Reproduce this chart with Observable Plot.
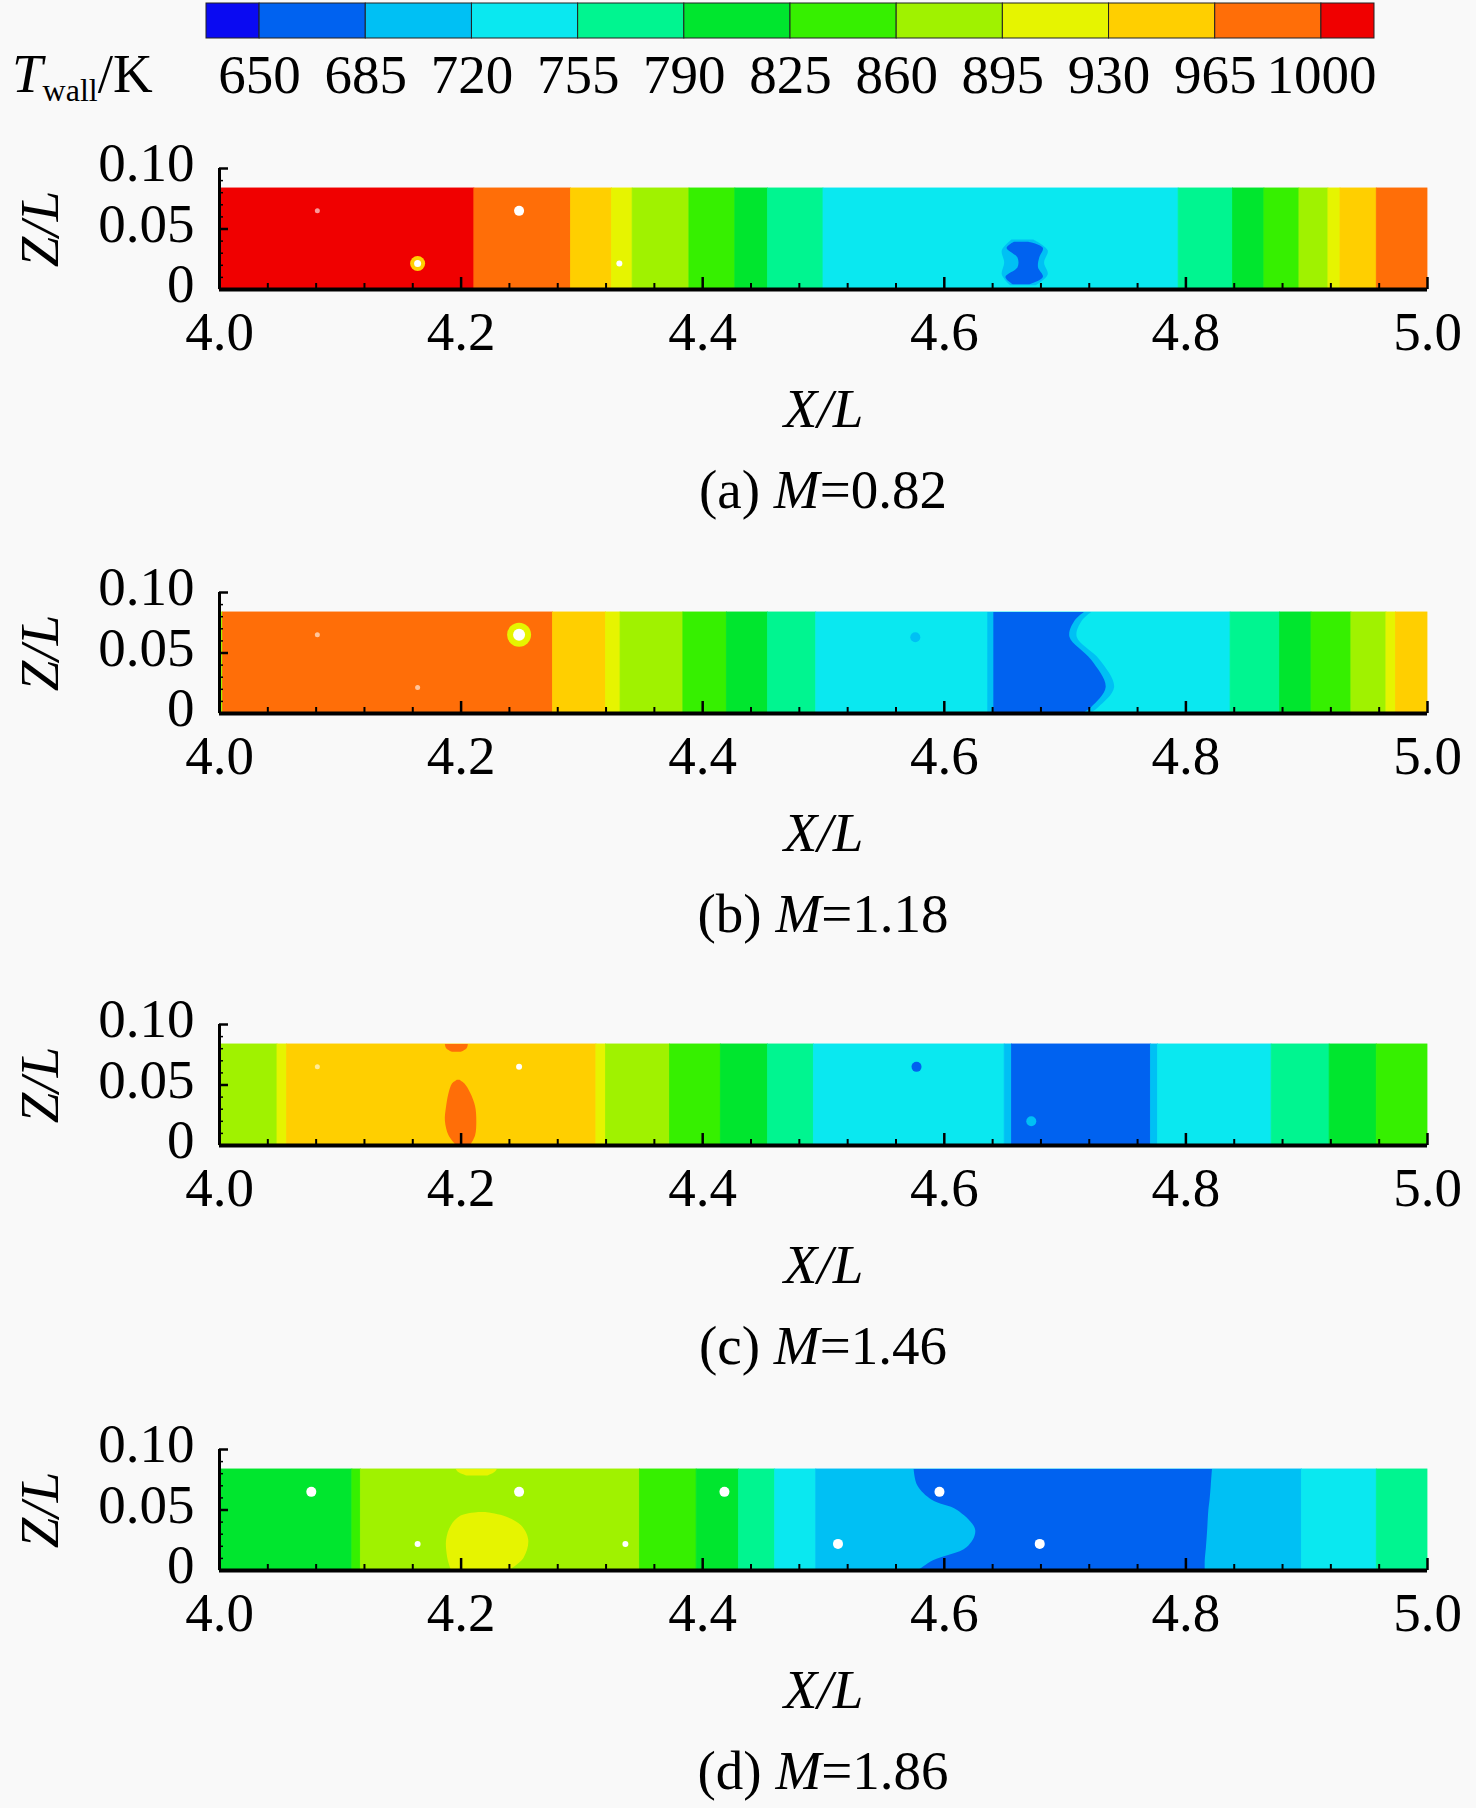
<!DOCTYPE html>
<html><head><meta charset="utf-8">
<script src="https://cdn.jsdelivr.net/npm/d3@7"></script>
<script src="https://cdn.jsdelivr.net/npm/@observablehq/plot@0.6"></script>
<style>
html,body{margin:0;padding:0;background:#f9f9f9;}
#page{position:relative;width:1476px;height:1808px;font-family:"Liberation Serif","Times New Roman",serif;color:#000;}
.abs{position:absolute;left:0;}
.txt{position:absolute;font-size:55px;line-height:1;white-space:nowrap;}
</style></head>
<body><div id="page"></div>
<script>
// ---------- colour levels ----------
const levels = [650, 685, 720, 755, 790, 825, 860, 895, 930, 965, 1000];
const palette = ["#0a0af2","#0062f0","#00c0f4","#0ae8f0","#00f590","#00e62e","#36f000","#a0f200","#e6f400","#ffcf00","#ff6e08","#f00000"];
const barEnds = [632.5, 1017.5];
const legendTitle = ["T", "wall", "/K"];

// ---------- axes ----------
const xTicks = [4.0, 4.2, 4.4, 4.6, 4.8, 5.0];
const yTicks = [0, 0.05, 0.10];
const xLabel = "X/L";
const yLabel = "Z/L";
const zTop = 0.0835;
const captionTags = ["(a)", "(b)", "(c)", "(d)"];
const mValues = ["0.82", "1.18", "1.46", "1.86"];

// ---------- panel (a) M=0.82 ----------
const aEdges = [4.000, 4.211, 4.291, 4.325, 4.342, 4.389, 4.427, 4.454, 4.500, 4.794, 4.839, 4.865, 4.894, 4.918, 4.928, 4.958, 5.000];
const aTemps = [1010, 980, 950, 910, 880, 845, 810, 770, 740, 770, 810, 845, 880, 910, 950, 980];
const aBlobOuterZ = [0.003, 0.012, 0.022, 0.032, 0.041];
const aBlobOuterL = [4.655, 4.648, 4.650, 4.648, 4.656];
const aBlobOuterR = [4.676, 4.686, 4.683, 4.686, 4.674];
const aBlobInnerZ = [0.004, 0.010, 0.018, 0.026, 0.034, 0.039];
const aBlobInnerL = [4.657, 4.651, 4.661, 4.661, 4.652, 4.658];
const aBlobInnerR = [4.671, 4.682, 4.678, 4.679, 4.682, 4.670];
const aHoleX = [4.081, 4.248, 4.164, 4.331];
const aHoleZ = [0.065, 0.065, 0.0215, 0.0215];
const aHoleKind = ["faint", "white", "ring", "small"];
const aHoleT = [null, null, 950, null];

// ---------- panel (b) M=1.18 ----------
const bEdges = [4.000, 4.003, 4.276, 4.320, 4.332, 4.384, 4.420, 4.454, 4.494, 4.837, 4.878, 4.904, 4.937, 4.966, 4.974, 5.000];
const bTemps = [880, 980, 950, 910, 880, 845, 810, 770, 740, 770, 810, 845, 880, 910, 950];
const bSZ = [0, 0.005, 0.0215, 0.044, 0.063, 0.076, 0.0835];
const bSX = [4.715, 4.722, 4.734, 4.722, 4.704, 4.708, 4.716];
const bS2X = [4.721, 4.728, 4.741, 4.729, 4.710, 4.714, 4.722];
const bBlueLeft = [4.641, 4.636];
const bHoleX = [4.081, 4.248, 4.164, 4.576];
const bHoleZ = [0.065, 0.065, 0.0215, 0.063];
const bHoleKind = ["faint", "glow", "faint", "dot"];
const bHoleT = [null, 910, null, 700];

// ---------- panel (c) M=1.46 ----------
const cEdges = [4.000, 4.048, 4.056, 4.312, 4.320, 4.373, 4.415, 4.454, 4.492, 4.650, 4.656, 4.771, 4.777, 4.871, 4.919, 4.958, 5.000];
const cTemps = [880, 910, 950, 910, 880, 845, 810, 770, 740, 700, 670, 700, 740, 770, 810, 845];
const cBlobZ = [0, 0.008, 0.020, 0.032, 0.043, 0.051, 0.054];
const cBlobL = [4.196, 4.190, 4.187, 4.188, 4.190, 4.193, 4.197];
const cBlobR = [4.208, 4.212, 4.213, 4.212, 4.208, 4.203, 4.199];
const cCapZ = [0.077, 0.080, 0.0835];
const cCapL = [4.193, 4.188, 4.187];
const cCapR = [4.200, 4.205, 4.206];
const cHoleX = [4.081, 4.248, 4.577, 4.672];
const cHoleZ = [0.065, 0.065, 0.065, 0.020];
const cHoleKind = ["faint", "small", "dot", "dot"];
const cHoleT = [null, null, 670, 700];

// ---------- panel (d) M=1.86 ----------
const dEdges = [4.000, 4.110, 4.117, 4.348, 4.395, 4.430, 4.460, 4.494, 4.896, 4.958, 5.000];
const dTemps = [810, 845, 880, 845, 810, 770, 740, 700, 740, 770];
const dBlueZ = [0, 0.008, 0.019, 0.033, 0.0496, 0.058, 0.070, 0.0835];
const dBlueL = [4.579, 4.591, 4.619, 4.626, 4.611, 4.590, 4.578, 4.575];
const dBlueR = [4.816, 4.816, 4.817, 4.818, 4.819, 4.820, 4.821, 4.822];
const dBlobZ = [0, 0.010, 0.025, 0.037, 0.045, 0.048];
const dBlobL = [4.192, 4.189, 4.188, 4.192, 4.200, 4.215];
const dBlobR = [4.240, 4.252, 4.256, 4.250, 4.235, 4.220];
const dCapZ = [0.078, 0.081, 0.0835];
const dCapL = [4.205, 4.198, 4.196];
const dCapR = [4.222, 4.228, 4.230];
const dHoleX = [4.076, 4.248, 4.418, 4.596, 4.164, 4.336, 4.512, 4.679];
const dHoleZ = [0.065, 0.065, 0.065, 0.065, 0.022, 0.022, 0.022, 0.022];
const dHoleKind = ["white", "white", "white", "white", "small", "small", "white", "white"];
const dHoleT = [null, null, null, null, null, null, null, null];

// ---------- build ----------
const colorOpts = {type: "threshold", domain: levels, range: palette};
const page = document.getElementById("page");
const FONT = '"Liberation Serif", "Times New Roman", serif';
const W = 1476;

function region(t, zs, ls, rs) {
  return {t, rows: zs.map((z, i) => ({z, xl: ls[i], xr: rs[i], t}))};
}

const panels = [
  {edges: aEdges, temps: aTemps, zero: 289,
   areas: [region(700, aBlobOuterZ, aBlobOuterL, aBlobOuterR), region(670, aBlobInnerZ, aBlobInnerL, aBlobInnerR)],
   holes: {x: aHoleX, z: aHoleZ, kind: aHoleKind, t: aHoleT}},
  {edges: bEdges, temps: bTemps, zero: 713,
   areas: [region(700, bSZ, bSZ.map(() => bBlueLeft[1]), bS2X), region(670, bSZ, bSZ.map(() => bBlueLeft[0]), bSX)],
   holes: {x: bHoleX, z: bHoleZ, kind: bHoleKind, t: bHoleT}},
  {edges: cEdges, temps: cTemps, zero: 1145,
   areas: [region(980, cBlobZ, cBlobL, cBlobR), region(980, cCapZ, cCapL, cCapR)],
   holes: {x: cHoleX, z: cHoleZ, kind: cHoleKind, t: cHoleT}},
  {edges: dEdges, temps: dTemps, zero: 1570,
   areas: [region(670, dBlueZ, dBlueL, dBlueR), region(910, dBlobZ, dBlobL, dBlobR), region(910, dCapZ, dCapL, dCapR)],
   holes: {x: dHoleX, z: dHoleZ, kind: dHoleKind, t: dHoleT}}
];

// colour bar
const bins = palette.map((c, i) => ({
  x1: i === 0 ? barEnds[0] : levels[i - 1],
  x2: i === palette.length - 1 ? barEnds[1] : levels[i]
}));
const bar = Plot.plot({
  width: W, height: 110,
  marginLeft: 206, marginRight: 102, marginTop: 3, marginBottom: 72,
  x: {domain: barEnds},
  color: colorOpts,
  style: {fontFamily: FONT, fontSize: "55px", background: "transparent", color: "#000", overflow: "visible"},
  marks: [
    Plot.rect(bins, {x1: "x1", x2: "x2", fill: d => (d.x1 + d.x2) / 2, stroke: "#222", strokeWidth: 1}),
    Plot.axisX(levels, {tickSize: 0, tickPadding: 15, label: null, tickFormat: d => String(d), fontSize: 55})
  ]
});
bar.classList.add("abs");
bar.style.top = "0px";
page.appendChild(bar);

const title = document.createElement("div");
title.className = "txt";
title.style.left = "12px";
title.style.top = "46px";
title.innerHTML = `<i>${legendTitle[0]}</i><span style="font-size:32px;position:relative;top:9px">${legendTitle[1]}</span>${legendTitle[2]}`;
page.appendChild(title);

const mT = 40, mB = 150, mL = 219, mR = 49, frameH = 121, H = mT + frameH + mB;
const frameW = W - mL - mR;
const xMinor = d3.range(xTicks[0], xTicks[xTicks.length - 1] + 1e-9, 0.04).filter(v => Math.abs(v * 5 - Math.round(v * 5)) > 1e-6);
const yMinor = d3.range(0.01, 0.1, 0.01).filter(v => Math.abs(v - 0.05) > 1e-6);

function holeMarks(h) {
  const rows = h.x.map((x, i) => ({x, z: h.z[i], kind: h.kind[i], t: h.t[i]}));
  const of = k => rows.filter(d => d.kind === k);
  return [
    Plot.dot(of("glow"), {x: "x", y: "z", r: 12, fill: "t"}),
    Plot.dot(of("glow"), {x: "x", y: "z", r: 6, fill: "white"}),
    Plot.dot(of("ring"), {x: "x", y: "z", r: 7.5, fill: "t"}),
    Plot.dot(of("ring"), {x: "x", y: "z", r: 3.5, fill: "white"}),
    Plot.dot(of("white"), {x: "x", y: "z", r: 5, fill: "white"}),
    Plot.dot(of("small"), {x: "x", y: "z", r: 3, fill: "white"}),
    Plot.dot(of("faint"), {x: "x", y: "z", r: 2.5, fill: "white", fillOpacity: 0.6}),
    Plot.dot(of("dot"), {x: "x", y: "z", r: 5, fill: "t"})
  ];
}

panels.forEach((p, k) => {
  const bands = p.edges.slice(0, -1).map((x1, i) => ({x1, x2: p.edges[i + 1], t: p.temps[i]}));
  const svg = Plot.plot({
    width: W, height: H,
    marginLeft: mL, marginRight: mR, marginTop: mT, marginBottom: mB,
    x: {domain: [xTicks[0], xTicks[xTicks.length - 1]]},
    y: {domain: [yTicks[0], yTicks[yTicks.length - 1]]},
    color: colorOpts,
    style: {fontFamily: FONT, fontSize: "55px", background: "transparent", color: "#000", overflow: "visible"},
    marks: [
      Plot.rect(bands, {x1: "x1", x2: "x2", y1: 0, y2: zTop, fill: "t", stroke: "t", strokeWidth: 0.8}),
      ...p.areas.map(a => Plot.areaX(a.rows, {y: "z", x1: "xl", x2: "xr", fill: "t", curve: "catmull-rom"})),
      ...holeMarks(p.holes),
      Plot.ruleX([xTicks[0]], {y1: yTicks[0], y2: yTicks[yTicks.length - 1], strokeWidth: 3}),
      Plot.ruleY([yTicks[0]], {strokeWidth: 4}),
      Plot.tickX(xTicks, {x: d => d, insetTop: frameH - 12, strokeWidth: 2.5}),
      Plot.tickX(xMinor, {x: d => d, insetTop: frameH - 6, strokeWidth: 2}),
      Plot.tickY(yTicks, {y: d => d, insetRight: frameW - 9, strokeWidth: 2.5}),
      Plot.tickY(yMinor, {y: d => d, insetRight: frameW - 4, strokeWidth: 1.5}),
      Plot.axisX(xTicks, {tickSize: 0, tickPadding: 21, label: null, tickFormat: d => d.toFixed(1), fontSize: 55}),
      Plot.axisY(yTicks, {tickSize: 0, tickPadding: 25, dy: -5, label: null, tickFormat: d => d === 0 ? "0" : d.toFixed(2), fontSize: 55}),
      Plot.text([xLabel], {text: d => d, frameAnchor: "bottom", lineAnchor: "middle", textAnchor: "middle", dy: 120, fontStyle: "italic", fontSize: 55}),
      Plot.text([yLabel], {text: d => d, frameAnchor: "left", lineAnchor: "middle", textAnchor: "middle", dx: -179, rotate: -90, fontStyle: "italic", fontSize: 55})
    ]
  });
  svg.classList.add("abs");
  svg.style.top = (p.zero - frameH - mT) + "px";
  page.appendChild(svg);

  const cap = document.createElement("div");
  cap.className = "txt";
  cap.style.left = (mL + frameW / 2 - 400) + "px";
  cap.style.width = "800px";
  cap.style.textAlign = "center";
  cap.style.top = (p.zero + 219 - 46) + "px";
  cap.innerHTML = `${captionTags[k]} <i>M</i>=${mValues[k]}`;
  page.appendChild(cap);
});
</script>
</body></html>
